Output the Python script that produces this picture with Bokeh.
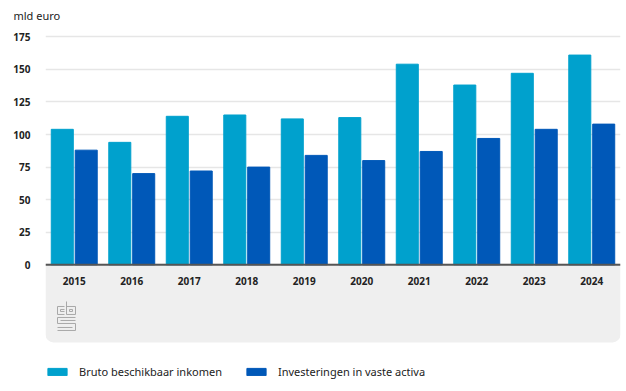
from bokeh.plotting import figure
from bokeh.models import (FactorRange, Range1d, FixedTicker, BoxAnnotation, Span,
                          Legend, LegendItem, ColumnDataSource)
from bokeh.transform import dodge
from bokeh.core.properties import value
from bokeh.embed import file_html
from bokeh.resources import INLINE

years = ["2015", "2016", "2017", "2018", "2019", "2020", "2021", "2022", "2023", "2024"]
inkomen = [104, 94, 114, 115, 112, 113, 154, 138, 147, 161]
investeringen = [88, 70, 72, 75, 84, 80, 87, 97, 104, 108]
y_ticks = [0, 25, 50, 75, 100, 125, 150, 175]
series_names = ["Bruto beschikbaar inkomen", "Investeringen in vaste activa"]
unit_label = "mld euro"

C_LIGHT = "#00a1cd"
C_DARK = "#0058b8"
FONT = "Noto Sans"

src = ColumnDataSource(dict(year=years, ink=inkomen, inv=investeringen))

p = figure(width=626, height=390, x_range=FactorRange(*years, range_padding=0),
           y_range=Range1d(-96.5, 181.4), output_backend="svg", toolbar_location=None,
           min_border_left=45, min_border_right=6, min_border_top=28, min_border_bottom=0)
p.outline_line_color = None
p.background_fill_color = "white"
p.border_fill_color = "white"

p.title.text = unit_label
p.title.align = "left"
p.title.offset = -32
p.title.standoff = 11
p.title.text_font = FONT
p.title.text_font_size = "11px"
p.title.text_font_style = "normal"
p.title.text_color = "#222222"

# grey panel below the zero line
panel = BoxAnnotation(top=0, bottom=-59.6, fill_color="#efefef", fill_alpha=1, line_color=None,
                      border_radius=(0, 0, 8, 8), level="underlay")
p.add_layout(panel)

r1 = p.vbar(x=dodge("year", -0.208, range=p.x_range), top="ink", width=0.383, source=src,
            fill_color=C_LIGHT, line_color=C_LIGHT)
r2 = p.vbar(x=dodge("year", 0.208, range=p.x_range), top="inv", width=0.383, source=src,
            fill_color=C_DARK, line_color=C_DARK)

p.add_layout(Span(location=0, dimension="width", line_color="#555555", line_width=2))

# small CBS logo decoration in the grey panel
def lx(px):
    return (px - 45) / 57.5

def ly(py):
    return (264.3 - py) / 1.303

logo_paths = [
    [(64, 306), (57, 306), (57, 314), (64, 314)],
    [(64, 309), (60, 309), (60, 311), (64, 311)],
    [(66, 301), (66, 314), (75, 314), (75, 306), (66, 306)],
    [(69, 309), (72, 309), (72, 311), (69, 311), (69, 309)],
    [(75, 317), (57, 317), (57, 323), (75, 323), (75, 330), (57, 330)],
    [(75, 320), (60, 320)],
    [(57, 327), (72, 327)],
]
p.multi_line(xs=[[lx(a) for a, b in path] for path in logo_paths],
             ys=[[ly(b) for a, b in path] for path in logo_paths],
             line_color="#a8a8a8", line_width=1)

p.xaxis.visible = False
p.xgrid.visible = False
p.yaxis.ticker = FixedTicker(ticks=y_ticks)
p.ygrid.ticker = FixedTicker(ticks=y_ticks)
p.ygrid.grid_line_color = "#e6e6e6"
p.ygrid.grid_line_width = 1.5
p.yaxis.axis_line_color = None
p.yaxis.major_tick_line_color = None
p.yaxis.minor_tick_line_color = None
p.yaxis.major_tick_out = 0
p.yaxis.major_tick_in = 0
p.yaxis.major_label_standoff = 15
p.yaxis.major_label_text_font = FONT
p.yaxis.major_label_text_font_size = "10px"
p.yaxis.major_label_text_font_style = "bold"
p.yaxis.major_label_text_color = "#222222"

p.text(x=years, y=[0] * len(years), text=years, y_offset=16, text_align="center",
       text_baseline="middle", text_font=value(FONT), text_font_size="10px",
       text_font_style="bold", text_color="#222222")

legend = Legend(items=[LegendItem(label=series_names[0], renderers=[r1]),
                       LegendItem(label=series_names[1], renderers=[r2])],
                orientation="horizontal", location=(0, 11), padding=0, margin=0,
                spacing=22, glyph_width=24, glyph_height=9, label_standoff=10,
                label_text_font=FONT, label_text_font_size="11px",
                label_text_color="#222222", border_line_color=None,
                background_fill_alpha=0)
p.add_layout(legend)

open("out.html", "w").write(file_html(p, INLINE))
